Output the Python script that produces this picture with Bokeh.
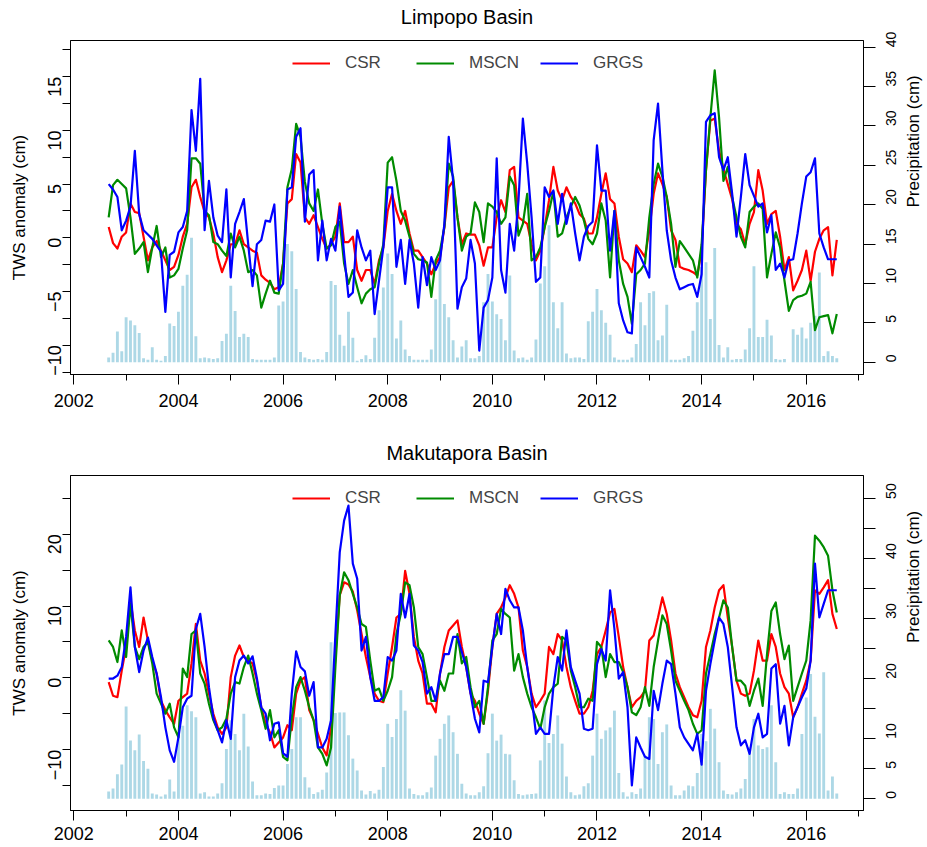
import math
import numpy as np
from bokeh.plotting import figure
from bokeh.models import (Range1d, LinearAxis, FixedTicker, Legend, LegendItem,
                          ColumnDataSource)
from bokeh.layouts import column
from bokeh.embed import file_html
from bokeh.resources import INLINE

# ---------------- data (monthly, Aug 2002 .. Jul 2016) ----------------
START_YEAR = 2002
START_MONTH = 8          # August
N_MONTHS = 168

# Limpopo Basin
lim_precip = [0.6,1.2,3.9,1.4,5.7,5.3,4.7,3.7,0.5,0.3, 1.9,0.3,0.2,0.8,4.9,4.6,6.4,9.7,11.1,15.8,
              3.3,0.5,0.6,0.5,0.4,0.5,2.7,3.6,9.7,6.5, 3.2,3.6,3.2,0.4,0.3,0.3,0.3,0.3,0.6,7.2,
              7.7,15.0,14.1,9.3,1.3,0.6,0.4,0.3,0.4,0.3, 1.3,10.3,9.8,3.5,
              2.1,6.4,3.1,0.2,0.4,0.9, 0.4,3.1,6.6,9.5,13.8,11.2,3.0,5.3,1.6,0.8,
              0.3,0.3,0.3,0.3,1.6,8.0,14.1,7.4,5.7,2.8, 0.6,2.0,2.8,0.5,0.5,0.8,7.6,11.2,7.7,6.1,
              5.5,2.8,11.0,1.5,0.5,0.6,0.3,0.6,2.9,10.0, 12.2,17.4,7.6,4.3,7.6,1.1,0.5,0.6,0.6,0.4,
              5.2,6.4,9.3,
              6.6,5.0,3.5,0.6,0.3,0.3,0.3,0.6,2.3,7.6, 4.7,8.8,9.0,2.8,3.4,7.3,0.3,0.3,0.3,0.5,
              0.8,4.0,7.6,12.1,12.7,5.5,14.5,2.2,0.6,1.9, 0.3,0.4,0.4,1.6,4.3,12.2,3.2,3.2,5.4,3.4,
              0.4,0.3,0.4,0.0,4.2,3.5,4.4,3.0,5.0,5.9, 11.4,0.8,1.4,0.8,0.5]
lim_csr = [1.0,-0.5,-1.0,0.1,0.5,3.2,2.4,2.3,0.1,-2.1, -0.9,-0.3,-1.2,-2.1,-3.0,-2.7,-1.6,0.1,1.3,4.7,
           5.4,3.8,2.4,1.9,0.4,-1.8,-3.2,-2.1,-0.6,-0.6, 0.7,-0.6,-0.9,-1.2,-1.4,-3.5,-3.9,-4.2,-4.8,-4.6,
           -2.4,3.2,3.6,7.8,7.0,1.9,1.3,2.1,1.0,-0.1, -1.0,-0.6,0.1,3.2,
           -0.4,-0.4,0.1,-3.0,-4.0,-3.0, -3.0,-4.3,-2.1,-0.9,2.5,4.1,2.5,1.3,2.5,0.4,
           -1.2,-1.2,-1.8,-2.4,-3.4,-2.4,-1.8,1.0,4.7,5.3, 1.9,-0.6,0.4,0.3,0.3,-0.7,-2.6,-0.9,-0.9,1.9,
           3.5,2.4,6.3,6.6,1.9,1.6,1.3,-0.6,-2.1,-1.2, 1.0,3.5,6.6,4.4,3.5,4.7,3.8,3.2,2.2,1.8,
           0.4,0.4,1.9,
           4.1,6.0,3.6,3.2,0.1,-2.0,-2.4,-3.2,-0.7,-1.2, -1.8,0.7,4.1,6.0,5.0,3.8,0.7,-0.2,-2.7,-2.9,
           -3.0,-3.2,-3.5,-1.2,6.3,10.9,11.1,8.1,6.4,5.0, 3.6,1.3,0.8,-0.6,1.3,2.4,6.3,4.4,1.3,2.2,
           2.5,0.1,-3.0,-1.8,-4.9,-4.0,-3.0,-1.2,-4.0,-1.3, -0.1,0.7,1.0,-3.5,-0.2]
lim_mscn = [1.9,4.9,5.4,5.0,4.6,1.9,-1.5,-1.0,-0.4,-3.2, -0.9,1.1,-1.8,-0.9,-3.7,-3.5,-2.9,-1.0,0.7,7.4,
            7.4,6.9,2.5,2.1,-0.4,-0.6,-1.2,-1.7,0.4,-0.9, 0.1,-1.2,-3.2,-3.0,-3.5,-6.5,-5.2,-4.0,-5.1,-5.2,
            -2.4,4.7,6.4,10.6,9.4,5.2,3.2,2.5,4.5,1.3, -1.0,-0.7,1.0,1.5,
            -2.4,-4.3,-3.0,-4.6,-6.1,-5.2, -4.8,-4.6,-2.4,-0.6,7.0,7.5,5.3,2.5,1.6,0.1,
            -1.5,-2.0,-2.1,-2.3,-5.5,-2.1,-1.2,1.0,6.9,5.7, 1.9,-1.2,0.1,0.4,3.3,2.4,-0.4,3.2,2.9,2.4,
            1.3,1.9,5.7,4.9,0.2,1.3,4.1,-2.1,-1.8,-0.9, 1.0,2.5,4.3,0.1,0.4,1.9,2.9,3.8,3.0,1.6,
            -0.1,-0.6,0.4,
            3.2,1.6,-3.7,2.5,-2.1,-4.3,-5.5,-8.0,-3.4,-3.0, -2.4,1.9,5.0,6.9,5.7,3.8,1.3,-2.7,-0.3,-0.9,
            -1.5,-2.1,-3.7,-0.6,6.3,11.2,15.6,11.2,5.3,6.6, 3.8,1.9,0.1,-0.9,2.4,2.9,3.2,2.7,-3.7,-1.5,
            0.5,-0.9,-4.0,-6.8,-5.8,-5.5,-5.4,-5.2,-4.1,-8.6, -7.4,-7.3,-7.2,-8.9,-7.1]
lim_grgs = [5.0,4.5,3.8,0.7,1.6,2.9,8.1,2.2,0.7,0.3, -0.1,-0.7,-1.3,-6.9,-1.6,-1.3,0.5,1.0,2.5,11.9,
            8.1,14.8,0.7,5.3,1.9,0.2,-0.4,4.5,-3.7,1.3, 2.4,3.6,-0.6,-4.5,-0.6,-0.2,1.6,1.5,3.1,-4.9,
            -4.3,4.5,4.7,9.4,10.2,1.5,5.9,6.3,-2.1,1.6, -2.1,-0.1,-1.2,2.9,
            -1.5,-5.5,-5.1,0.7,-0.9,-2.1, -1.2,-7.1,-4.0,-0.9,4.7,4.7,-2.7,-0.2,-4.3,-0.2,
            -2.4,-6.5,-1.8,-4.4,-1.8,-3.0,-2.1,1.3,9.4,5.3, -6.6,-4.6,-3.8,-0.2,-2.4,-10.5,-6.5,-5.8,-3.7,7.4,
            -3.0,-5.1,1.3,-1.2,3.5,11.1,6.9,1.9,-4.1,-3.7, 4.7,3.8,4.4,1.3,4.1,1.3,3.2,0.4,-2.1,0.1,
            1.1,1.5,8.6,
            4.4,4.4,-1.2,2.5,-6.1,-7.7,-8.8,-8.9,-0.9,-1.8, -2.7,-3.7,9.1,12.5,6.3,0.7,-2.1,-3.7,-4.8,-4.6,
            -4.4,-4.3,-5.5,-3.4,10.8,11.4,11.6,7.5,6.3,7.5, 4.1,0.1,3.8,7.8,4.9,3.9,2.9,3.2,0.5,2.1,
            -3.0,-2.4,-3.7,-2.1,-2.0,0.4,3.2,5.7,6.1,7.4, 0.4,-0.9,-2.0,-2.0,-2.0]

# Makutapora Basin
mak_precip = [1.2,1.7,4.1,5.7,15.4,9.7,8.1,10.7,6.3,5.0, 0.9,0.7,0.4,0.7,3.2,1.2,10.6,12.2,15.6,14.6,
              13.6,0.9,1.1,0.4,0.4,0.9,2.6,8.3,13.1,10.8, 8.1,14.2,8.7,2.9,0.6,0.6,0.9,0.8,1.8,2.2,
              2.2,5.8,8.3,13.6,13.6,3.6,1.9,0.8,1.1,1.5, 4.4,26.1,14.3,14.4,
              14.4,10.6,6.7,4.7,1.4,0.7, 1.3,0.9,1.5,5.3,12.5,10.3,13.3,18.1,14.7,1.7,
              0.8,0.6,0.6,1.1,1.9,7.2,10.0,12.5,13.9,11.1, 7.5,2.5,0.9,0.6,0.6,1.1,2.1,7.6,14.2,9.7,
              10.7,7.5,7.4,3.1,0.8,0.6,0.7,0.8,0.9,6.4, 16.4,9.3,10.8,13.9,9.2,3.7,1.1,0.6,0.7,2.1,
              2.6,7.2,14.2,
              10.0,11.4,11.9,14.7,4.3,1.1,0.4,1.1,0.8,1.7, 7.2,13.6,13.3,5.8,11.1,12.4,2.2,0.6,0.6,1.4,
              2.2,2.1,4.3,10.8,9.6,15.0,11.7,6.1,1.4,0.8, 0.7,1.1,1.7,3.3,8.6,13.3,8.9,8.3,8.6,15.6,
              6.1,0.8,1.1,0.8,0.8,1.7,10.8,16.9,20.8,13.7, 10.9,21.1,1.4,3.7,0.9]
mak_csr = [-0.6,-2.5,-2.7,1.0,4.3,10.8,6.6,4.3,8.4,5.2, 2.4,0.6,-3.2,-4.5,-5.5,-6.4,-3.2,-2.7,-2.2,2.0,
           7.5,2.4,0.6,-2.2,-5.0,-6.9,-7.8,-6.9,0.1,3.1, 4.5,2.9,2.4,2.0,-0.4,-4.1,-6.4,-7.6,-9.7,-9.0,
           -8.3,-6.6,-7.3,-2.2,-0.4,0.1,-4.5,-5.9,-7.8,-9.7, -10.8,-6.9,3.0,11.5,
           13.3,13.0,12.0,9.4,6.1,2.9, 0.1,-2.2,-3.2,-3.4,0.6,4.3,8.4,8.9,14.9,11.7,
           5.7,2.4,0.6,-3.6,-3.6,-4.8,0.6,4.3,6.6,7.3, 8.0,4.3,1.5,-2.2,-3.2,-5.0,-6.4,-1.8,4.3,8.9,
           9.8,11.2,12.9,11.7,9.8,3.8,1.5,-2.2,-4.1,-3.2, -2.2,4.3,3.3,6.1,5.2,1.5,-1.3,-3.2,-5.0,-5.0,
           -4.1,-1.8,3.3,
           4.3,6.6,9.1,9.6,5.7,1.5,-1.3,-4.1,-3.2,-2.7, -1.8,5.2,5.9,8.4,11.2,8.9,5.2,0.6,-1.3,-2.7,
           -4.1,-5.2,-5.5,-3.2,4.3,6.6,9.8,12.2,12.9,8.4, 4.3,-0.4,-2.2,-2.5,-2.2,1.0,5.2,2.4,2.4,6.1,
           4.3,0.6,-1.3,-2.2,-5.5,-4.1,-2.2,-0.4,2.4,12.2, 11.7,12.6,13.6,8.9,6.8]
mak_mscn = [5.2,4.3,2.2,6.6,2.9,10.3,4.3,2.6,4.3,5.0, 2.0,-2.2,-3.6,-5.0,-3.6,-6.9,-8.3,1.3,0.1,6.1,
            6.6,0.6,-0.8,-3.6,-5.9,-7.3,-6.9,-5.7,-2.2,-0.6, -0.8,1.5,3.1,0.6,-2.2,-4.5,-7.1,-4.5,-8.3,-7.3,
            -11.0,-11.5,-5.5,-1.3,0.1,-1.8,-4.1,-5.9,-9.7,-10.6, -12.2,-9.7,1.5,11.5,
            14.7,13.6,11.7,9.8,7.5,7.1, 2.4,-1.8,-1.5,-3.2,-1.8,0.1,6.1,8.9,13.3,12.9,
            9.8,4.3,3.3,0.1,-3.2,-3.2,-0.4,-1.8,0.6,0.6, 6.1,2.0,2.9,-1.3,-4.1,-3.2,-6.4,-1.3,5.2,6.1,
            9.6,8.9,8.4,1.0,3.3,0.1,-2.2,-4.1,-5.5,-7.1, -4.1,-2.2,-1.3,-0.8,5.7,5.2,1.0,-1.3,-4.1,-4.1,
            -2.9,-3.2,5.0,
            4.3,0.1,3.3,2.2,2.2,0.8,-1.3,-4.8,-5.2,-4.1, -1.3,-3.9,1.5,5.2,8.7,7.5,3.8,-0.4,-1.8,-3.2,
            -4.5,-6.4,-7.8,-7.3,0.6,3.3,6.1,8.4,10.8,9.8, 4.3,-0.4,-0.4,-1.1,-3.9,-1.8,-0.1,-3.9,3.3,9.3,
            10.5,6.1,2.6,4.5,-3.2,-1.3,0.6,2.4,8.0,19.8, 19.1,18.2,17.0,12.2,9.1]
mak_grgs = [-0.1,-0.1,0.3,1.5,5.7,12.6,4.3,0.8,3.8,5.6, 2.9,0.6,-2.7,-6.9,-10.1,-11.7,-8.3,-4.1,-2.9,-2.5,
            6.8,8.9,4.3,-1.3,-5.5,-7.3,-9.0,-5.9,-8.5,0.1, 2.4,3.1,2.0,3.0,-0.1,-4.1,-5.0,-8.7,-6.4,-6.2,
            -10.5,-11.0,-2.2,3.7,1.5,0.9,-2.5,-0.6,-9.7,-9.7, -8.5,-5.9,6.0,17.5,
            21.9,24.0,15.9,13.8,3.8,5.7, 0.1,-3.2,-3.2,-2.7,2.9,2.4,3.8,11.7,8.4,11.7,
            4.5,3.8,2.2,-2.2,-1.3,-3.2,0.6,3.3,3.3,5.7, 5.7,3.6,1.5,-2.2,-5.7,-7.6,-0.4,-0.6,4.3,8.9,
            6.1,12.4,10.8,9.8,9.8,6.6,1.5,-2.7,-7.8,-6.9, -7.8,-7.8,-1.3,2.9,1.0,6.6,1.5,-0.4,-2.2,-7.1,
            -7.3,-7.1,1.9,
            4.0,2.4,12.2,6.8,-0.1,0.8,-4.1,-15.0,-8.3,-9.7, -11.0,-11.3,-1.8,-4.5,-0.8,2.4,1.9,-2.2,-6.9,-8.3,
            -9.2,-10.1,-7.8,-12.1,-1.8,1.9,5.2,8.4,7.5,4.3, -1.3,-6.9,-9.4,-8.7,-10.6,-6.9,-5.0,-8.3,-7.8,1.3,
            1.9,-6.4,-3.9,-9.4,-5.5,-4.1,-2.7,-1.5,2.4,15.9, 8.4,10.3,12.2,12.2,12.2]

series_names = ["CSR", "MSCN", "GRGS"]
series_colors = ["#FF0000", "#008B00", "#0000FF"]
year_labels = [2002, 2004, 2006, 2008, 2010, 2012, 2014, 2016]
year_minor = [2003, 2005, 2007, 2009, 2011, 2013, 2015, 2017]

# decimal-year time of each month
t = START_YEAR + (START_MONTH + np.arange(N_MONTHS)) / 12.0

FONT = "Liberation Sans"
FRAME_W = 793


def style_axis(ax, tick_out, label_size, minor_out=None):
    ax.axis_line_color = "black"
    ax.axis_line_width = 1
    ax.major_tick_line_color = "black"
    ax.minor_tick_line_color = "black"
    ax.major_tick_in = 0
    ax.minor_tick_in = 0
    ax.major_tick_out = tick_out
    ax.minor_tick_out = tick_out if minor_out is None else minor_out
    ax.major_label_text_font = FONT
    ax.major_label_text_font_size = label_size
    ax.major_label_text_color = "black"
    ax.axis_label_text_font = FONT
    ax.axis_label_text_font_size = "17px"
    ax.axis_label_text_font_style = "normal"
    ax.axis_label_text_color = "black"


def panel(title, precip, csr, mscn, grgs, yrange, yticks, yminor, prange, pticks, pminor,
          frame_h, top_b, bottom_b, title_gap, x_standoff):
    p = figure(frame_width=FRAME_W, frame_height=frame_h,
               x_range=Range1d(2001.937, 2017.094), y_range=Range1d(*yrange),
               output_backend="svg", toolbar_location=None,
               min_border_left=70, min_border_right=50,
               min_border_top=top_b, min_border_bottom=bottom_b)
    p.background_fill_color = "white"
    p.border_fill_color = "white"
    p.outline_line_color = "black"
    p.outline_line_width = 1
    p.xgrid.visible = False
    p.ygrid.visible = False

    # panel title: the label of a tick-less axis above the frame
    ta = LinearAxis(ticker=FixedTicker(ticks=[]), axis_label=title)
    ta.axis_line_color = None
    ta.major_tick_line_color = None
    ta.minor_tick_line_color = None
    ta.major_tick_out = 0
    ta.minor_tick_out = 0
    ta.major_label_text_font_size = "0px"
    ta.major_label_standoff = 0
    ta.axis_label_standoff = title_gap
    ta.axis_label_text_font = FONT
    ta.axis_label_text_font_size = "20px"
    ta.axis_label_text_font_style = "normal"
    ta.axis_label_text_color = "black"
    p.add_layout(ta, "above")

    p.extra_y_ranges = {"pr": Range1d(*prange)}
    src = ColumnDataSource(dict(t=t, pr=precip, csr=csr, mscn=mscn, grgs=grgs))
    p.vbar(x="t", top="pr", bottom=0, width=0.055, source=src, y_range_name="pr",
           fill_color="#ADD8E6", line_color=None)

    rends = []
    for key, col in zip(["csr", "mscn", "grgs"], series_colors):
        r = p.line("t", key, source=src, line_color=col, line_width=2.2, line_join="round")
        rends.append(r)

    # x axis
    xa = p.below[0]
    xa.ticker = FixedTicker(ticks=year_labels, minor_ticks=year_minor)
    style_axis(xa, 10, "18px", minor_out=6)
    xa.major_label_standoff = x_standoff

    # left axis
    ya = p.left[0]
    ya.ticker = FixedTicker(ticks=yticks, minor_ticks=yminor)
    style_axis(ya, 8, "18px")
    ya.axis_label = "TWS anomaly (cm)"
    ya.major_label_orientation = math.pi / 2
    ya.major_label_standoff = 8
    ya.axis_label_standoff = 10

    # right axis
    ra = LinearAxis(y_range_name="pr", axis_label="Precipitation (cm)",
                    ticker=FixedTicker(ticks=pticks, minor_ticks=pminor))
    style_axis(ra, 12, "14px")
    ra.major_label_orientation = math.pi / 2
    ra.major_label_standoff = 16
    ra.axis_label_standoff = 9
    try:
        ra.axis_label_orientation = math.pi / 2
    except Exception:
        pass
    p.add_layout(ra, "right")

    items = [LegendItem(label=n, renderers=[r]) for n, r in zip(series_names, rends)]
    leg = Legend(items=items, orientation="horizontal",
                 location=(222, frame_h - 33),
                 glyph_width=38, glyph_height=20, label_height=20, label_width=50,
                 label_standoff=15, spacing=21, padding=0, margin=0,
                 border_line_alpha=0, background_fill_alpha=0,
                 label_text_font=FONT, label_text_font_size="17px")
    p.add_layout(leg)
    return p


p1 = panel("Limpopo Basin", lim_precip, lim_csr, lim_mscn, lim_grgs,
           (-12.73, 18.37), [-10, -5, 0, 5, 10, 15],
           [-12.5, -7.5, -2.5, 2.5, 7.5, 12.5, 17.5],
           (-1.56, 40.85), [0, 5, 10, 15, 20, 25, 30, 35, 40], [],
           334, 40, 63, 13, 9)
p2 = panel("Makutapora Basin", mak_precip, mak_csr, mak_mscn, mak_grgs,
           (-18.48, 28.18), [-10, 0, 10, 20], [-15, -5, 5, 15, 25],
           (-1.95, 53.9), [0, 5, 10, 20, 30, 40, 50], [15, 25, 35, 45],
           335, 38, 37, 12, 6)

layout = column(p1, p2)
open("out.html", "w").write(file_html(layout, INLINE))
